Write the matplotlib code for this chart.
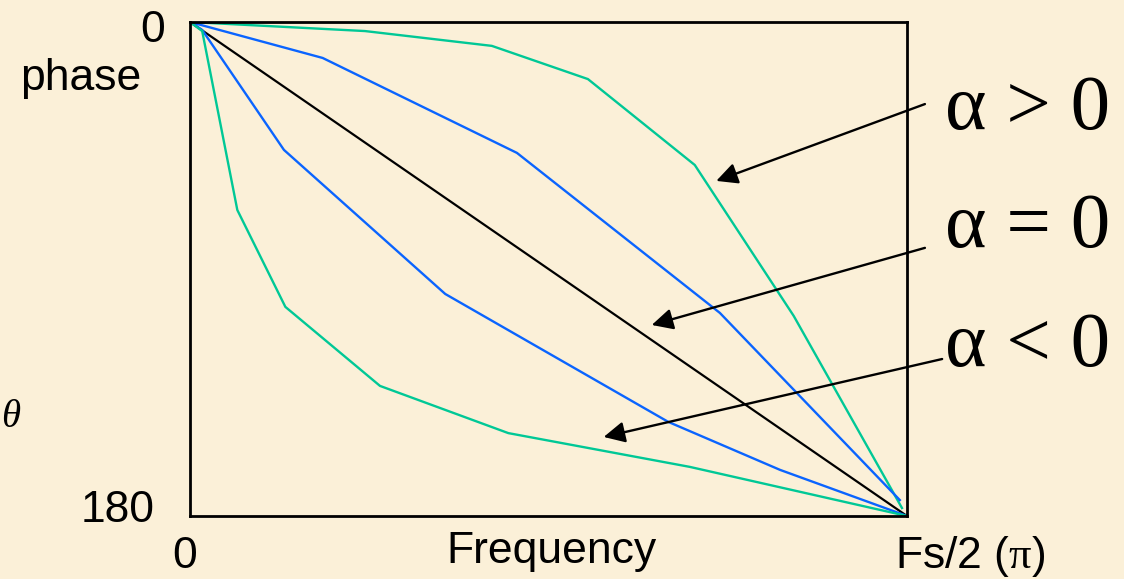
import numpy as np
import matplotlib
matplotlib.use("Agg")
import matplotlib.pyplot as plt

# mathtext: pi from a serif font, like the original slide
plt.rcParams['mathtext.fontset'] = 'custom'
plt.rcParams['mathtext.rm'] = 'Liberation Sans'
plt.rcParams['mathtext.it'] = 'Liberation Serif'

# Curves: frequency (0..1 = Fs/2) and phase in degrees (0..180)
green_up_f = [0.0, 0.244, 0.421, 0.555, 0.704, 0.842, 0.993]
green_up_ph = [0.0, 3.3, 8.7, 20.8, 52.1, 107.1, 177.1]

blue_up_f = [0.0, 0.185, 0.456, 0.739, 0.990]
blue_up_ph = [0.0, 13.1, 47.7, 106.0, 174.2]

linear_f = [0.0, 1.0]
linear_ph = [0.0, 180.0]

blue_low_f = [0.0, 0.017, 0.131, 0.356, 0.667, 0.823, 1.0]
blue_low_ph = [0.0, 2.9, 46.6, 99.1, 145.7, 163.2, 180.0]

green_low_f = [0.0, 0.017, 0.066, 0.133, 0.265, 0.444, 0.697, 1.0]
green_low_ph = [0.0, 3.3, 68.5, 103.8, 132.6, 149.8, 162.1, 180.0]

# labels and the arrows pointing at the curves
alpha_labels = [r"α > 0", r"α = 0", r"α < 0"]
label_ph = [39.0, 82.0, 125.3]
arrow_tail = [(1.025, 29.9), (1.025, 82.3), (1.049, 122.8)]
arrow_tip = [(0.734, 57.9), (0.644, 110.4), (0.577, 151.2)]

bg = '#fbf0d8'
green = '#00c896'
blue = '#0a64ff'

W, H = 1124, 579
fig = plt.figure(figsize=(W / 100, H / 100), dpi=100, facecolor=bg)
ax = fig.add_axes([190 / W, 1 - 516 / H, 717 / W, 494 / H])
ax.set_facecolor(bg)

ax.plot(green_up_f, green_up_ph, color=green, lw=1.7)
ax.plot(blue_up_f, blue_up_ph, color=blue, lw=1.7)
ax.plot(linear_f, linear_ph, color='black', lw=1.6)
ax.plot(blue_low_f, blue_low_ph, color=blue, lw=1.7)
ax.plot(green_low_f, green_low_ph, color=green, lw=1.7)

ax.set_xlim(0, 1)
ax.set_ylim(180, 0)
ax.set_xticks([])
ax.set_yticks([])
for s in ax.spines.values():
    s.set_linewidth(2)
    s.set_color('black')

for lab, ph, tail, tip in zip(alpha_labels, label_ph, arrow_tail, arrow_tip):
    ax.annotate('', xy=tip, xytext=tail, annotation_clip=False,
                arrowprops=dict(arrowstyle='-|>', color='black', lw=1.7,
                                mutation_scale=32, shrinkA=0, shrinkB=0))
    ax.text(1.053, ph, lab, fontsize=57, family='Liberation Serif',
            ha='left', va='baseline', clip_on=False)

sans = 'Liberation Sans'
fig.text(165 / W, 1 - 42 / H, "0", fontsize=32, family=sans, ha='right', va='baseline')
fig.text(141 / W, 1 - 90 / H, "phase", fontsize=32, family=sans, ha='right', va='baseline')
fig.text(155 / W, 1 - 522 / H, "180", fontsize=32, family=sans, ha='right', va='baseline')
fig.text(185 / W, 1 - 568 / H, "0", fontsize=32, family=sans, ha='center', va='baseline')
fig.text(446 / W, 1 - 563 / H, "Frequency", fontsize=32, family=sans, ha='left', va='baseline')
fig.text(895 / W, 1 - 568 / H, r"Fs/2 ($\pi$)", fontsize=32, family=sans, ha='left', va='baseline')
fig.text(1 / W, 1 - 427 / H, "θ", fontsize=28, family='Liberation Serif', style='italic',
         ha='left', va='baseline')

fig.savefig("out.png", dpi=100, facecolor=bg)
